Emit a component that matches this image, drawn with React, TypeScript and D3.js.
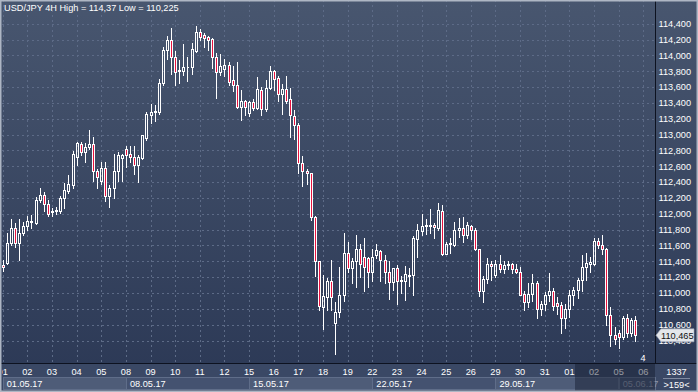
import React from 'react'
import * as d3 from 'd3'

// USD/JPY 4H candles (01.05.17 - 05.06.17)
const opens = [
  111.35, 111.38, 111.63, 111.82, 111.63, 111.76, 111.84, 111.90, 111.88, 112.17,
  112.24, 112.12, 112.02, 112.03, 112.03, 112.20, 112.29, 112.36, 112.72, 112.88,
  112.78, 112.84, 112.88, 112.54, 112.42, 112.58, 112.22, 112.32, 112.54, 112.71,
  112.82, 112.75, 112.72, 112.62, 112.71, 112.96, 113.25, 113.28, 113.28, 113.65,
  114.07, 114.19, 113.98, 113.81, 113.80, 113.85, 113.85, 114.06, 114.29, 114.26,
  114.23, 114.21, 113.98, 113.79, 113.83, 113.88, 113.69, 113.62, 113.35, 113.42,
  113.27, 113.41, 113.34, 113.56, 113.32, 113.59, 113.80, 113.72, 113.51, 113.58,
  113.45, 113.23, 113.12, 112.64, 112.54, 112.51, 111.96, 111.40, 110.82, 110.95,
  111.15, 110.62, 110.76, 110.98, 111.51, 111.32, 111.40, 111.55, 111.45, 111.44,
  111.26, 111.48, 111.53, 111.42, 111.27, 111.14, 111.31, 111.15, 111.15, 111.21,
  111.23, 111.68, 111.78, 111.84, 111.86, 111.86, 111.82, 112.04, 111.49, 111.62,
  111.61, 111.79, 111.82, 111.73, 111.85, 111.80, 111.55, 111.02, 111.18, 111.37,
  111.23, 111.37, 111.30, 111.35, 111.37, 111.30, 111.27, 110.99, 110.89, 110.99,
  111.13, 110.80, 110.86, 110.98, 111.03, 110.87, 110.85, 110.68, 110.80, 110.98,
  111.04, 111.16, 111.33, 111.37, 111.37, 111.66, 111.61, 111.56, 110.72, 110.47,
  110.49, 110.45, 110.69, 110.49, 110.66
]
const highs = [
  111.42, 111.76, 111.93, 111.88, 111.94, 111.90, 111.97, 111.99, 112.21, 112.32,
  112.28, 112.18, 112.07, 112.08, 112.22, 112.39, 112.49, 112.79, 112.91, 112.91,
  112.89, 113.06, 112.97, 112.56, 112.66, 112.66, 112.36, 112.76, 112.78, 112.76,
  112.86, 112.86, 112.85, 112.74, 112.99, 113.29, 113.38, 113.37, 113.70, 114.11,
  114.25, 114.34, 114.06, 113.94, 114.14, 113.98, 114.16, 114.37, 114.33, 114.28,
  114.25, 114.22, 114.03, 114.02, 113.96, 113.92, 113.86, 113.92, 113.56, 113.44,
  113.42, 113.45, 113.73, 113.60, 113.69, 113.87, 113.81, 113.74, 113.64, 113.74,
  113.59, 113.31, 113.14, 112.73, 112.56, 112.52, 111.97, 111.41, 111.23, 111.19,
  111.42, 110.89, 111.33, 111.76, 111.64, 111.44, 111.73, 111.62, 111.69, 111.45,
  111.55, 111.62, 111.54, 111.48, 111.40, 111.32, 111.35, 111.21, 111.34, 111.32,
  111.72, 111.87, 112.00, 111.94, 112.06, 111.88, 112.13, 112.11, 111.65, 111.70,
  111.90, 111.95, 111.96, 111.90, 111.86, 111.82, 111.55, 111.21, 111.44, 111.40,
  111.42, 111.48, 111.41, 111.41, 111.38, 111.36, 111.33, 111.02, 111.12, 111.24,
  111.15, 110.90, 111.01, 111.25, 111.06, 110.95, 110.88, 110.86, 111.04, 111.08,
  111.19, 111.48, 111.50, 111.46, 111.69, 111.69, 111.73, 111.57, 110.82, 110.57,
  110.53, 110.71, 110.74, 110.68, 110.71
]
const lows = [
  111.28, 111.36, 111.61, 111.58, 111.42, 111.73, 111.79, 111.82, 111.87, 112.15,
  112.03, 111.97, 111.97, 112.00, 112.01, 112.07, 112.26, 112.32, 112.61, 112.74,
  112.66, 112.82, 112.42, 112.32, 112.37, 112.16, 112.09, 112.20, 112.42, 112.42,
  112.59, 112.66, 112.50, 112.40, 112.69, 112.93, 113.14, 113.17, 113.26, 113.62,
  113.96, 113.76, 113.62, 113.65, 113.75, 113.68, 113.77, 114.04, 114.19, 114.11,
  114.07, 113.84, 113.46, 113.75, 113.74, 113.63, 113.55, 113.33, 113.18, 113.25,
  113.23, 113.31, 113.32, 113.25, 113.30, 113.57, 113.56, 113.42, 113.26, 113.40,
  112.97, 112.94, 112.51, 112.35, 112.38, 111.92, 111.21, 110.79, 110.55, 110.79,
  110.79, 110.225, 110.70, 110.90, 111.27, 111.12, 111.07, 111.20, 111.03, 111.07,
  111.15, 111.44, 111.15, 111.12, 110.93, 111.04, 110.86, 111.00, 110.91, 111.09,
  110.98, 111.45, 111.73, 111.75, 111.76, 111.70, 111.79, 111.48, 111.49, 111.50,
  111.59, 111.71, 111.65, 111.70, 111.68, 111.54, 110.96, 110.89, 111.12, 111.16,
  111.20, 111.27, 111.25, 111.30, 111.25, 111.25, 110.97, 110.78, 110.82, 110.90,
  110.68, 110.72, 110.79, 110.90, 110.79, 110.74, 110.49, 110.56, 110.70, 110.85,
  110.94, 111.03, 111.17, 111.27, 111.35, 111.57, 111.49, 110.59, 110.33, 110.35,
  110.31, 110.42, 110.45, 110.46, 110.39
]
const closes = [
  111.33, 111.63, 111.82, 111.63, 111.76, 111.85, 111.91, 111.91, 112.18, 112.24,
  112.12, 112.00, 112.04, 112.05, 112.20, 112.30, 112.37, 112.75, 112.89, 112.78,
  112.84, 112.88, 112.54, 112.46, 112.58, 112.22, 112.32, 112.54, 112.74, 112.74,
  112.74, 112.72, 112.62, 112.72, 112.99, 113.26, 113.29, 113.30, 113.65, 114.07,
  114.19, 113.98, 113.79, 113.80, 113.85, 113.85, 114.08, 114.29, 114.23, 114.22,
  114.20, 113.98, 113.79, 113.86, 113.88, 113.67, 113.62, 113.35, 113.42, 113.35,
  113.41, 113.34, 113.57, 113.32, 113.59, 113.80, 113.70, 113.51, 113.58, 113.42,
  113.25, 113.12, 112.64, 112.54, 112.51, 111.96, 111.40, 110.83, 110.96, 111.15,
  110.95, 110.76, 110.98, 111.51, 111.32, 111.40, 111.55, 111.37, 111.33, 111.27,
  111.46, 111.54, 111.42, 111.27, 111.14, 111.31, 111.15, 111.16, 111.24, 111.23,
  111.69, 111.79, 111.84, 111.86, 111.84, 111.83, 112.05, 111.49, 111.62, 111.63,
  111.80, 111.82, 111.73, 111.86, 111.79, 111.55, 111.02, 111.18, 111.37, 111.34,
  111.37, 111.30, 111.35, 111.37, 111.30, 111.27, 110.98, 110.89, 110.99, 111.13,
  110.80, 110.86, 110.98, 111.03, 110.84, 110.84, 110.68, 110.80, 110.98, 111.04,
  111.16, 111.33, 111.38, 111.39, 111.66, 111.60, 111.56, 110.72, 110.47, 110.42,
  110.45, 110.68, 110.49, 110.66, 110.465
]

const dayLabels = ['01', '02', '03', '04', '05', '08', '09', '10', '11', '12', '15', '16', '17', '18', '19',
  '22', '23', '24', '25', '26', '29', '30', '31', '01', '02', '05', '06']
const weekLabels = ['01.05.17', '08.05.17', '15.05.17', '22.05.17', '29.05.17', '05.06.17']
const priceTicks = d3.range(110.4, 114.41, 0.2)

const W = 698
const H = 392
const plotRight = 655
const plotBottom = 363
const barsPerDay = 6

const fmt = (v: number) => d3.format(',.3f')(v).replace('.', ',')

export default function App () {
  const x = d3.scaleLinear().domain([0, 156]).range([2.7, 643.3])
  const y = d3.scaleLinear().domain([110.4, 114.4]).range([340.5, 23.7])
  const font = '"Liberation Sans", Arial, sans-serif'
  const last = closes[closes.length - 1]
  const ly = y(last)

  return (
    <div style={{position: 'absolute', left: 0, top: 0}}>
      <svg width={W} height={H} style={{display: 'block'}} fontFamily={font} fontSize={9.2}>
        <defs>
          <linearGradient id='bg' x1='0' y1='0' x2='0' y2='1'>
            <stop offset='0' stopColor='#48566f' />
            <stop offset='1' stopColor='#2b3855' />
          </linearGradient>
          <clipPath id='plot'>
            <rect x={2} y={0} width={plotRight - 2} height={plotBottom} />
          </clipPath>
          <clipPath id='axisclip'>
            <rect x={2} y={plotBottom} width={plotRight - 2} height={H - plotBottom} />
          </clipPath>
        </defs>
        <rect x={0} y={0} width={W} height={H} fill='url(#bg)' />

        {/* grid */}
        <g stroke='#5d6b87' strokeDasharray='2,3' shapeRendering='crispEdges' clipPath='url(#plot)'>
          {priceTicks.map((p, i) => (
            <line key={'h' + i} x1={2} x2={plotRight} y1={Math.round(y(p)) + 0.5} y2={Math.round(y(p)) + 0.5} />
          ))}
          {dayLabels.map((d, i) => (
            <line key={'v' + i} x1={Math.round(x(i * barsPerDay)) + 0.5} x2={Math.round(x(i * barsPerDay)) + 0.5} y1={0} y2={plotBottom} />
          ))}
        </g>

        {/* candles */}
        <g clipPath='url(#plot)' shapeRendering='crispEdges'>
          {opens.map((o, i) => {
            const c = closes[i]
            const cx = Math.round(x(i))
            const top = Math.round(y(Math.max(o, c)))
            const bot = Math.round(y(Math.min(o, c)))
            const hi = Math.round(y(highs[i]))
            const lo = Math.round(y(lows[i]))
            const bear = c < o
            return (
              <g key={i}>
                <line x1={cx + 0.5} x2={cx + 0.5} y1={hi} y2={top} stroke='#fff' />
                <line x1={cx + 0.5} x2={cx + 0.5} y1={bot + 1} y2={lo + 1} stroke='#fff' />
                <path d={`M${cx - 0.5},${top + 0.5}h2v${Math.max(0, bot - top)}h-2Z`}
                  fill={bear ? '#e8123f' : 'none'} stroke='#fff' />
              </g>
            )
          })}
        </g>

        {/* title */}
        <text x={4} y={11} fill='#fff'>USD/JPY 4H High = 114,37 Low = 110,225</text>

        {/* price axis */}
        <line x1={plotRight + 0.5} x2={plotRight + 0.5} y1={0} y2={H} stroke='#0d1220' />
        {priceTicks.map((p, i) => (
          <text key={'p' + i} x={658.5} y={y(p) + 3.3} fill='#fff'>{fmt(p)}</text>
        ))}
        <path d={`M656,${ly}l5,-6.5h33v13h-33Z`} fill='#e4e6ea' stroke='#9aa3b3' strokeWidth={0.6} />
        <text x={661} y={ly + 3.3} fill='#111'>{fmt(last)}</text>

        {/* time axis */}
        <rect x={0} y={plotBottom} width={W} height={H - plotBottom} fill='#3a4865' />
        <line x1={0} x2={W} y1={plotBottom + 0.5} y2={plotBottom + 0.5} stroke='#0d1220' />
        <g clipPath='url(#axisclip)'>
          {dayLabels.map((d, i) => (
            <text key={'d' + i} x={x(i * barsPerDay)} y={375} fill='#fff' textAnchor='middle'>{d}</text>
          ))}
        </g>
        {weekLabels.map((w, i) => {
          const x0 = x(i * 30)
          const x1 = Math.min(x((i + 1) * 30), plotRight)
          return (
            <g key={'w' + i}>
              <rect x={Math.round(x0) + 0.5} y={377.5} width={Math.round(x1 - x0)} height={12}
                fill={i % 2 === 0 ? '#4e5c78' : '#445270'} stroke='#5f6d89' />
              <text x={x0 + 4} y={386.5} fill={i === 5 ? '#8d97aa' : '#fff'}>{w}</text>
            </g>
          )
        })}
        <rect x={575} y={plotBottom + 1} width={plotRight - 575} height={H - plotBottom - 1} fill='#141b2c' opacity={0.45} />
        <text x={643} y={361} fill='#fff' textAnchor='middle'>4</text>
        <text x={676.5} y={375} fill='#fff' textAnchor='middle'>1337</text>
        <line x1={663} x2={690} y1={378.5} y2={378.5} stroke='#7f8aa0' />
        <text x={676.5} y={388} fill='#fff' textAnchor='middle'>&gt;159&lt;</text>

        {/* frame */}
        <rect x={0.75} y={0.75} width={W - 1.5} height={H - 1.5} fill='none' stroke='#aeb6c4' strokeWidth={1.5} />
      </svg>
    </div>
  )
}
